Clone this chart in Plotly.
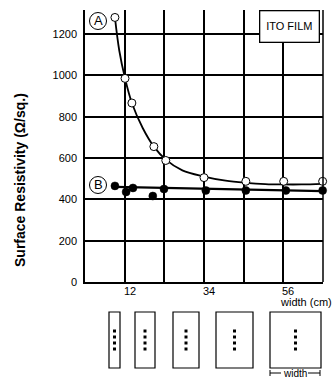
import plotly.graph_objects as go

# ---- data ----
a_x = [9.3, 12.1, 14.0, 20.1, 23.4, 34.0, 45.6, 56.1, 66.9]
a_y = [1280, 985, 866, 655, 588, 505, 487, 487, 487]
a_curve_x = [9.3, 10.5, 12.1, 14.0, 17.0, 20.1, 23.4, 28.0, 34.0, 40.0, 45.6, 51.0, 56.1, 61.0, 66.9]
a_curve_y = [1280, 1120, 985, 866, 745, 655, 592, 540, 510, 490, 480, 474, 472, 472, 475]
b_x = [9.3, 12.4, 14.3, 19.8, 22.9, 34.5, 45.6, 56.7, 66.9]
b_y = [465, 436, 455, 416, 450, 443, 443, 443, 443]
b_line_x = [9.3, 66.9]
b_line_y = [460, 440]
y_ticks = [0, 200, 400, 600, 800, 1000, 1200]
x_grid = [12, 23, 34, 45, 56]
x_labels = [12, 34, 56]

# ---- layout geometry (pixels) ----
W_FIG, H_FIG = 336, 381
L, R, T, B = 85, 323, 10, 282
PW, PH = R - L, B - T
FONT = "Liberation Sans"


def px(x):
    return (x - L) / PW


def py(y):
    return (B - y) / PH


fig = go.Figure()
fig.add_trace(go.Scatter(x=a_curve_x, y=a_curve_y, mode="lines", line=dict(color="black", width=1.8, shape="spline"),
                         hoverinfo="skip", showlegend=False))
fig.add_trace(go.Scatter(x=b_line_x, y=b_line_y, mode="lines", line=dict(color="black", width=2.2),
                         hoverinfo="skip", showlegend=False))
fig.add_trace(go.Scatter(x=a_x, y=a_y, mode="markers",
                         marker=dict(symbol="circle", size=8, color="white", line=dict(color="black", width=1)),
                         showlegend=False, cliponaxis=False))
fig.add_trace(go.Scatter(x=b_x, y=b_y, mode="markers",
                         marker=dict(symbol="circle", size=8, color="black", line=dict(color="black", width=0.5)),
                         showlegend=False, cliponaxis=False))

shapes = []
annotations = []

# right edge line
shapes.append(dict(type="line", xref="paper", yref="paper", x0=1, x1=1, y0=0, y1=1,
                   line=dict(color="black", width=1.5)))

# circled labels A and B
for lab, cx, cy in [("A", 98, 21), ("B", 98, 185)]:
    shapes.append(dict(type="circle", xref="paper", yref="paper",
                       x0=px(cx - 8.5), x1=px(cx + 8.5), y0=py(cy + 8.5), y1=py(cy - 8.5),
                       line=dict(color="black", width=1), fillcolor="white"))
    annotations.append(dict(text=lab, xref="paper", yref="paper", x=px(cx), y=py(cy),
                            showarrow=False, font=dict(family=FONT, size=13, color="black"),
                            xanchor="center", yanchor="middle"))

# ITO FILM box
annotations.append(dict(text="ITO FILM", xref="paper", yref="paper", x=px(289), y=py(26.5),
                        showarrow=False, font=dict(family=FONT, size=11, color="black"),
                        xanchor="center", yanchor="middle", width=56, height=28, borderpad=1,
                        bordercolor="black", borderwidth=1.3, bgcolor="white"))

# x tick labels
for v in x_labels:
    annotations.append(dict(text=str(v), xref="x", yref="paper", x=v, y=0, xshift=5, yshift=-1,
                            showarrow=False, font=dict(family=FONT, size=11, color="black"),
                            xanchor="center", yanchor="top"))
annotations.append(dict(text="width (cm)", xref="paper", yref="paper", x=px(306), y=py(302),
                        showarrow=False, font=dict(family=FONT, size=11, color="black"),
                        xanchor="center", yanchor="middle"))

# y title
annotations.append(dict(text="<b>Surface Resistivity (Ω/sq.)</b>", xref="paper", yref="paper",
                        x=px(20), y=py(180), textangle=-90, showarrow=False,
                        font=dict(family=FONT, size=14, color="black"),
                        xanchor="center", yanchor="middle"))

# sample illustrations
rects = [(109, 120), (135, 155), (173, 199), (216, 253), (270, 321)]
for x0, x1 in rects:
    shapes.append(dict(type="rect", xref="paper", yref="paper", x0=px(x0), x1=px(x1), y0=py(368), y1=py(312),
                       line=dict(color="black", width=1.2), fillcolor="white"))
    cx = (x0 + x1) / 2
    for dy in [331, 337, 343, 349]:
        shapes.append(dict(type="rect", xref="paper", yref="paper", x0=px(cx - 1.5), x1=px(cx + 1.5),
                           y0=py(dy + 1.5), y1=py(dy - 1.5), line=dict(width=0), fillcolor="black"))

# width dimension marker
for (xa, xb) in [(270, 281), (308, 320)]:
    shapes.append(dict(type="line", xref="paper", yref="paper", x0=px(xa), x1=px(xb), y0=py(373), y1=py(373),
                       line=dict(color="black", width=1)))
for xt in [270, 320]:
    shapes.append(dict(type="line", xref="paper", yref="paper", x0=px(xt), x1=px(xt), y0=py(370), y1=py(376),
                       line=dict(color="black", width=1)))
annotations.append(dict(text="width", xref="paper", yref="paper", x=px(295), y=py(373),
                        showarrow=False, font=dict(family=FONT, size=10, color="black"),
                        xanchor="center", yanchor="middle"))

fig.update_layout(
    width=W_FIG, height=H_FIG,
    margin=dict(l=L, r=W_FIG - R, t=T, b=H_FIG - B, pad=0),
    paper_bgcolor="white", plot_bgcolor="white",
    shapes=shapes, annotations=annotations,
    showlegend=False,
    font=dict(family=FONT, size=11, color="black"),
    xaxis=dict(range=[1, 67], tickvals=x_grid, showticklabels=False, showgrid=True,
               gridcolor="black", gridwidth=1.5, showline=True, linecolor="black", linewidth=1.5,
               zeroline=False, ticks="", fixedrange=True),
    yaxis=dict(range=[0, 1316], tickvals=y_ticks, ticktext=[str(v) for v in y_ticks], showgrid=True,
               gridcolor="black", gridwidth=1.5, showline=True, linecolor="black", linewidth=1.5,
               zeroline=False, ticks="", ticklabelstandoff=4,
               tickfont=dict(family=FONT, size=11, color="black"), fixedrange=True),
)

fig.write_html("out.html", config={"displayModeBar": False},
               post_script="document.body.style.margin='0';document.body.style.overflow='hidden';")
